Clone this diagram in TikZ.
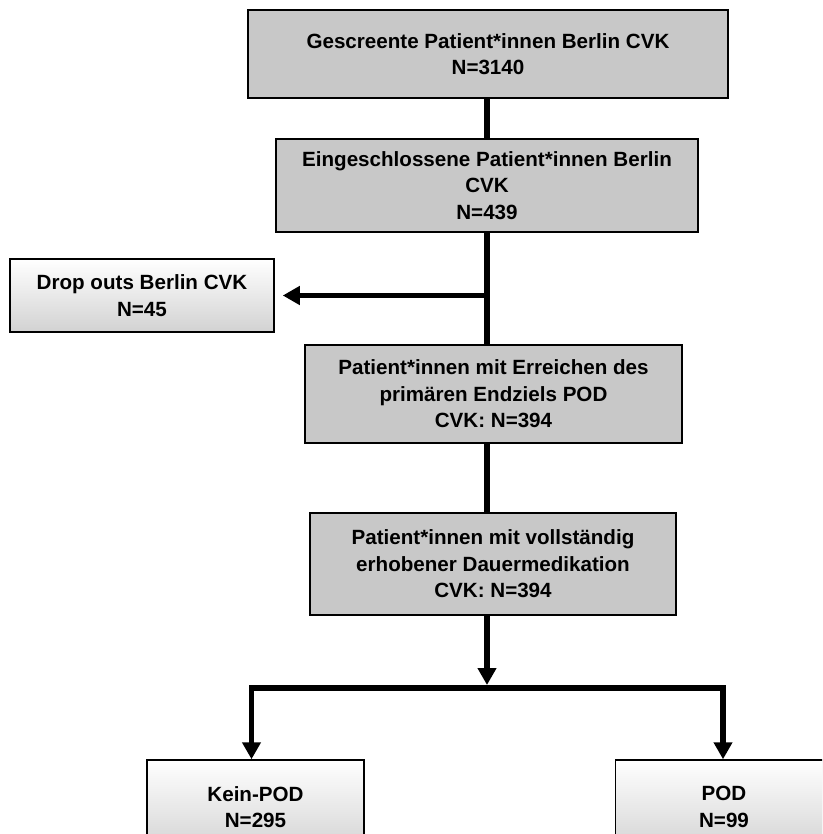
\documentclass[tikz,border=0pt]{standalone}
\usepackage{fontspec}
\setmainfont{Liberation Sans}
\usetikzlibrary{positioning,arrows.meta}
\definecolor{boxgray}{RGB}{200,200,200}
\definecolor{boxshade}{RGB}{210,210,210}
\begin{document}
\begin{tikzpicture}[
		x=1pt,
		y=-1pt,
		stage/.style={
			draw,
			line width=1.5pt,
			fill=boxgray,
			font=\bfseries\fontsize{20.6}{26.5}\selectfont,
			align=center,
			inner sep=0pt
		},
		outcome/.style={
			stage,
			top color=white,
			bottom color=boxshade
		},
		flow/.style={
			line width=5.5pt
		},
		>={Triangle[length=17pt,width=18pt]}
		]
		\useasboundingbox (0,0) rectangle (822,834);
		\clip (0,0) rectangle (822,834);
		% main column
		\node[stage, minimum width=480pt, minimum height=88pt] (screen) at (488,54)
			{Gescreente Patient*innen Berlin CVK\\N=3140};
		\node[stage, minimum width=422pt, minimum height=93pt] (incl) at (487,185.5)
			{Eingeschlossene Patient*innen Berlin\\CVK\\N=439};
		\node[outcome, minimum width=264pt, minimum height=73pt] (drop) at (142,295.5)
			{Drop outs Berlin CVK\\N=45};
		\node[stage, minimum width=377pt, minimum height=98pt] (endp) at (493.5,394)
			{Patient*innen mit Erreichen des\\primären Endziels POD\\CVK: N=394};
		\node[stage, minimum width=366pt, minimum height=102pt] (medi) at (493,564)
			{Patient*innen mit vollständig\\erhobener Dauermedikation\\CVK: N=394};
		% split
		\node[outcome, minimum width=217pt, minimum height=94pt] (nopod) at (255.5,807)
			{Kein-POD\\N=295};
		\node[outcome, minimum width=217pt, minimum height=94pt] (pod) at (724,807)
			{POD\\N=99};
		\coordinate (dropfork) at (incl |- drop.east);
		\coordinate (fork) at (487,688);
		\draw[flow] (screen.south -| incl) -- (incl.north);
		\draw[flow] (incl.south) -- (incl |- endp.north);
		\draw[flow, ->, shorten >=8pt] (dropfork) -- (drop.east);
		\draw[flow] (incl |- endp.south) -- (incl |- medi.north);
		\draw[flow, ->, shorten >=3pt] (incl |- medi.south) -- (fork);
		\draw[flow, ->] (fork) -| ([xshift=-4pt]nopod.north);
		\draw[flow, ->] (fork) -| ([xshift=-1pt]pod.north);
\end{tikzpicture}
\end{document}
